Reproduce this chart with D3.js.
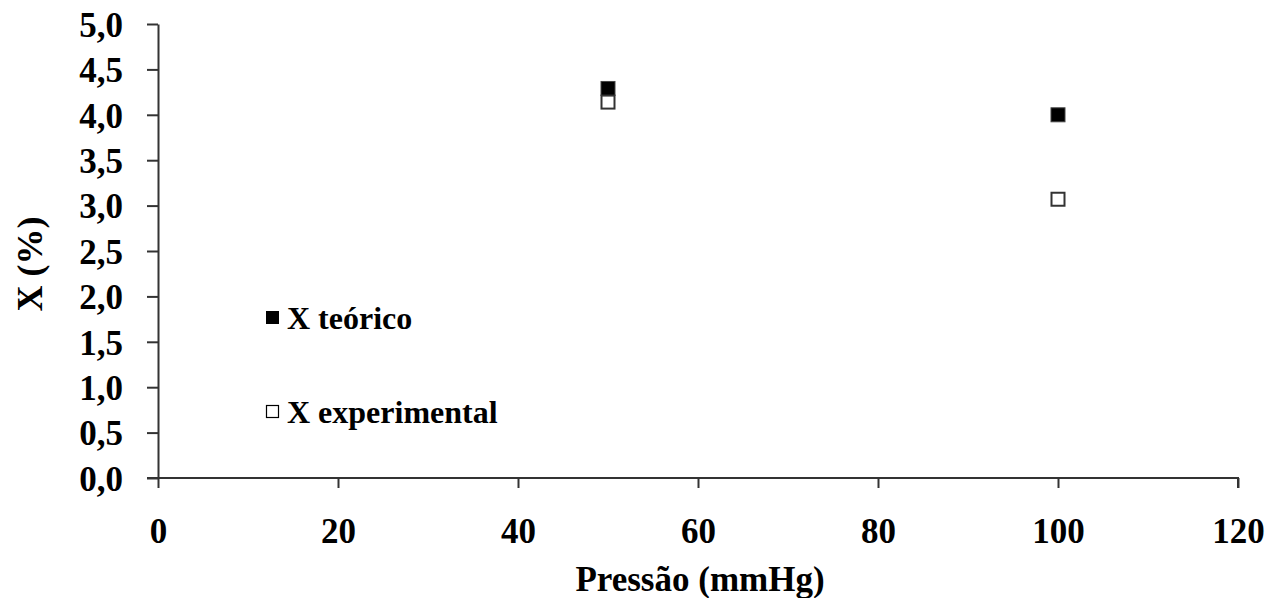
<!DOCTYPE html>
<html>
<head>
<meta charset="utf-8">
<script src="https://cdn.jsdelivr.net/npm/d3@7"></script>
<style>
  body { margin: 0; background: #fff; }
  text { font-family: "Liberation Serif", "Times New Roman", serif; font-weight: bold; fill: #000; }
</style>
</head>
<body>
<div class="chart"></div>
<script>
var pressures = [50, 100];
var xTeorico = [4.29, 4.0];
var xExperimental = [4.14, 3.07];
var xTicks = [0, 20, 40, 60, 80, 100, 120];
var yTicks = [0, 0.5, 1, 1.5, 2, 2.5, 3, 3.5, 4, 4.5, 5];

var svgWidth = 1279;
var svgHeight = 598;
var margin = { top: 24, right: 41, bottom: 120, left: 158 };
var width = svgWidth - margin.left - margin.right;
var height = svgHeight - margin.top - margin.bottom;

var svg = d3.select(".chart")
  .append("svg")
  .attr("width", svgWidth)
  .attr("height", svgHeight);

var chart = svg.append("g")
  .attr("transform", "translate(" + margin.left + "," + margin.top + ")");

var xScale = d3.scaleLinear().domain([0, 120]).range([0, width]);
var yScale = d3.scaleLinear().domain([0, 5]).range([height, 0]);

var fmt = function(d) { return d3.format(".1f")(d).replace(".", ","); };

var bottomAxis = d3.axisBottom(xScale).tickValues(xTicks).tickSize(10).tickSizeOuter(0).tickPadding(30);
var leftAxis = d3.axisLeft(yScale).tickValues(yTicks).tickFormat(fmt).tickSize(11).tickSizeOuter(0).tickPadding(24);

var gx = chart.append("g")
  .attr("transform", "translate(0," + height + ")")
  .call(bottomAxis);
var gy = chart.append("g").call(leftAxis);

[gx, gy].forEach(function(g) {
  g.selectAll("path, line").attr("stroke", "#333").attr("stroke-width", 2);
  g.selectAll("text").style("font-size", "35px").style("font-family", "Liberation Serif").style("font-weight", "bold").attr("fill", "#000");
});
gy.selectAll("text").attr("dy", "0.35em");
// x axis line runs a little left of the y axis, like the original
gx.select("path").attr("d", "M-11,0H" + width + "V10");

// series
var sq = 14;
chart.selectAll(".teorico")
  .data(pressures)
  .enter().append("rect")
    .attr("x", function(d) { return xScale(d) - sq / 2; })
    .attr("y", function(d, i) { return yScale(xTeorico[i]) - sq / 2; })
    .attr("width", sq).attr("height", sq)
    .attr("fill", "#000").attr("stroke", "#444").attr("stroke-width", 1);

chart.selectAll(".experimental")
  .data(pressures)
  .enter().append("rect")
    .attr("x", function(d) { return xScale(d) - sq / 2 + 0.5; })
    .attr("y", function(d, i) { return yScale(xExperimental[i]) - sq / 2 + 0.5; })
    .attr("width", sq - 1).attr("height", sq - 1)
    .attr("fill", "#fff").attr("stroke", "#333").attr("stroke-width", 2);

// legend
var legend = svg.append("g");
legend.append("rect").attr("x", 266).attr("y", 311).attr("width", 13).attr("height", 13)
  .attr("fill", "#000");
legend.append("text").attr("x", 287).attr("y", 329).style("font-size", "32px").text("X teórico");
legend.append("rect").attr("x", 266.5).attr("y", 405.5).attr("width", 12).attr("height", 12)
  .attr("fill", "#fff").attr("stroke", "#000").attr("stroke-width", 1.2);
legend.append("text").attr("x", 287).attr("y", 423).style("font-size", "32px").text("X experimental");

// axis titles
svg.append("text")
  .attr("transform", "translate(42,264) rotate(-90)")
  .attr("text-anchor", "middle")
  .style("font-size", "36px")
  .text("X (%)");

svg.append("text")
  .attr("x", 700)
  .attr("y", 591)
  .attr("text-anchor", "middle")
  .style("font-size", "35px")
  .text("Pressão (mmHg)");
</script>
</body>
</html>
